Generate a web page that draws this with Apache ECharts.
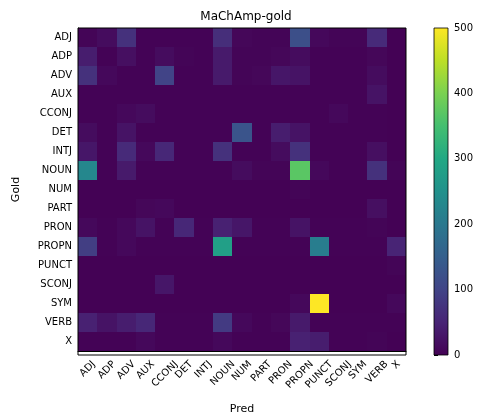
<!DOCTYPE html>
<html><head><meta charset="utf-8">
<script src="https://cdn.jsdelivr.net/npm/echarts@6/dist/echarts.min.js"></script>
<style>html,body{margin:0;padding:0;background:#fff}#c{width:481px;height:420px}</style>
</head><body><div id="c"></div>
<script>
var categories = ['ADJ','ADP','ADV','AUX','CCONJ','DET','INTJ','NOUN','NUM','PART','PRON','PROPN','PUNCT','SCONJ','SYM','VERB','X'];
// rows = Gold, columns = Pred
var rowADJ   = [5,15,70,3,3,3,3,65,8,5,5,120,10,5,5,60,2];
var rowADP   = [40,3,20,3,15,5,3,35,5,5,8,15,3,3,3,8,2];
var rowADV   = [70,10,3,3,100,3,3,35,5,8,30,25,3,3,3,15,2];
var rowAUX   = [3,3,3,3,3,3,3,3,3,3,3,3,3,3,3,25,2];
var rowCCONJ = [3,3,10,15,3,3,3,3,3,3,3,3,3,10,3,3,2];
var rowDET   = [15,3,25,3,3,3,3,3,130,3,40,25,3,3,3,3,2];
var rowINTJ  = [30,3,60,10,55,3,3,70,3,3,15,70,3,3,3,20,2];
var rowNOUN  = [230,3,35,3,3,3,3,3,15,5,5,370,10,3,3,70,5];
var rowNUM   = [2,2,2,2,2,2,2,2,2,2,2,5,2,2,2,2,2];
var rowPART  = [2,2,2,8,10,2,2,2,2,2,2,2,2,2,2,20,2];
var rowPRON  = [10,3,10,25,3,55,3,45,30,3,3,25,3,3,3,5,2];
var rowPROPN = [90,3,10,3,3,3,3,280,3,3,3,3,210,3,3,3,50];
var rowPUNCT = [2,2,2,2,2,2,2,2,2,2,2,2,2,2,2,2,5];
var rowSCONJ = [2,2,2,2,30,2,2,2,2,2,2,2,2,2,2,2,2];
var rowSYM   = [2,2,2,2,2,2,2,2,2,2,2,10,500,2,2,2,10];
var rowVERB  = [45,25,40,55,3,3,3,85,10,3,8,35,3,3,3,3,3];
var rowX     = [3,3,3,10,3,3,3,10,3,3,3,45,40,3,3,5,2];
var colorbarTicks = [0,100,200,300,400,500];

var matrix = [rowADJ,rowADP,rowADV,rowAUX,rowCCONJ,rowDET,rowINTJ,rowNOUN,rowNUM,rowPART,rowPRON,rowPROPN,rowPUNCT,rowSCONJ,rowSYM,rowVERB,rowX];
var data = [];
matrix.forEach(function(row, y){ row.forEach(function(v, x){ data.push([x, y, v]); }); });

var viridis = ['#440154','#482475','#414487','#355f8d','#2a788e','#21918c','#22a884','#44bf70','#7ad151','#bddf26','#fde725'];
var gradStops = viridis.map(function(c, i){ return {offset: 1 - i / (viridis.length - 1), color: c}; }).reverse();
var font = 'DejaVu Sans';
var GX = 78, GY = 28, GW = 328, GH = 327;
var CBX = 434, CBW = 14;
var chart = echarts.init(document.getElementById('c'), null, {renderer:'canvas'});
chart.setOption({
  animation: false,
  backgroundColor: '#fff',
  textStyle: {fontFamily: font},
  title: {text: 'MaChAmp-gold', left: 241, top: 6, textAlign: 'center',
    textStyle: {fontFamily: font, fontSize: 12, fontWeight: 'normal', color: '#000'}},
  grid: [
    {left: GX, top: GY, width: GW, height: GH, show: false},
    {left: CBX, top: GY, width: CBW, height: GH, show: false}
  ],
  xAxis: [
    {type: 'category', data: categories, gridIndex: 0,
      name: 'Pred', nameLocation: 'middle', nameGap: 53,
      nameTextStyle: {fontFamily: font, fontSize: 11, color: '#000'},
      axisLine: {lineStyle: {color: '#000'}},
      axisTick: {alignWithLabel: true, length: 4, lineStyle: {color: '#000'}},
      axisLabel: {show: false},
      splitLine: {show: false}},
    {type: 'value', gridIndex: 1, show: false, min: 0, max: 1}
  ],
  yAxis: [
    {type: 'category', data: categories, inverse: true, gridIndex: 0,
      name: 'Gold', nameLocation: 'middle', nameGap: 56, nameRotate: 90,
      nameTextStyle: {fontFamily: font, fontSize: 11, color: '#000'},
      axisLine: {lineStyle: {color: '#000'}},
      axisTick: {alignWithLabel: true, length: 4, lineStyle: {color: '#000'}},
      axisLabel: {interval: 0, fontFamily: font, fontSize: 10, color: '#000', margin: 6},
      splitLine: {show: false}},
    {type: 'value', gridIndex: 1, position: 'right', min: 0, max: 500, interval: 100,
      axisLine: {show: false},
      axisTick: {show: true, length: 4, lineStyle: {color: '#000'}},
      axisLabel: {fontFamily: font, fontSize: 10, color: '#000', margin: 6,
        formatter: function(v){ return colorbarTicks.indexOf(v) >= 0 ? String(v) : ''; }},
      splitLine: {show: false}}
  ],
  visualMap: {
    type: 'continuous', min: 0, max: 500, seriesIndex: 0, dimension: 2, show: false,
    inRange: {color: viridis}
  },
  series: [
    {type: 'custom', xAxisIndex: 0, yAxisIndex: 0, data: data,
      encode: {x: 0, y: 1},
      renderItem: function(params, api){
        var c = api.coord([api.value(0), api.value(1)]);
        var s = api.size([1, 1]);
        var x0 = Math.round(c[0] - s[0] / 2), x1 = Math.round(c[0] + s[0] / 2);
        var y0 = Math.round(c[1] - s[1] / 2), y1 = Math.round(c[1] + s[1] / 2);
        return {type: 'rect',
          shape: {x: x0, y: y0, width: x1 - x0, height: y1 - y0},
          style: {fill: api.visual('color')}};
      }}
  ]
});

// x tick labels, rotated 45° with their bounding box centred on each tick (matplotlib style)
var ctx = document.createElement('canvas').getContext('2d');
ctx.font = '10px "DejaVu Sans"';
var axisBottom = chart.convertToPixel({yAxisIndex: 0}, categories[categories.length - 1]) + (GH / categories.length) / 2;
var H = 11.5, PAD = 7.5, R2 = Math.SQRT2;
var labelGraphics = categories.map(function(cat, i){
  var px = chart.convertToPixel({xAxisIndex: 0}, cat);
  var w = ctx.measureText(cat).width;
  var cy = axisBottom + PAD + (w + H) / (2 * R2);
  return {type: 'text', id: 'xl' + i, x: px, y: cy, rotation: Math.PI / 4, silent: true,
    style: {text: cat, fontFamily: font, fontSize: 10, fill: '#000', align: 'center', verticalAlign: 'middle'}};
});
chart.setOption({
  graphic: [
    {type: 'rect', id: 'frame', shape: {x: GX, y: GY, width: GW, height: GH}, z: 100,
      style: {fill: 'none', stroke: '#000', lineWidth: 1}, silent: true},
    {type: 'rect', id: 'cbar', shape: {x: CBX, y: GY, width: CBW, height: GH}, z: 99,
      style: {fill: new echarts.graphic.LinearGradient(0, 0, 0, 1, gradStops), stroke: '#000', lineWidth: 0.8}, silent: true}
  ].concat(labelGraphics)
});
</script></body></html>
